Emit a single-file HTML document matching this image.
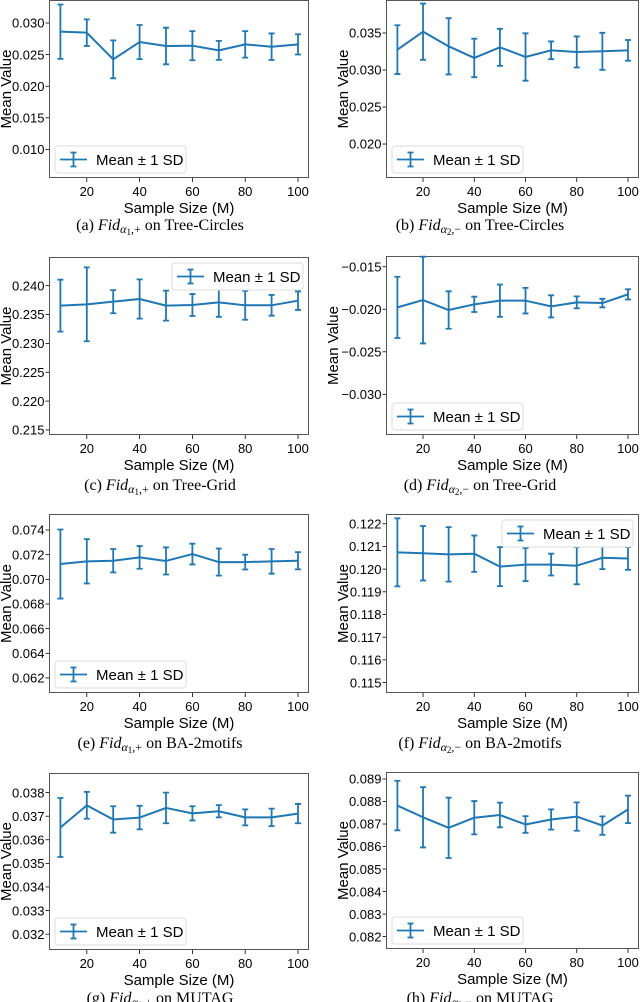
<!DOCTYPE html>
<html><head><meta charset="utf-8"><style>
html,body{margin:0;padding:0;background:#fff;}
svg{display:block;}
.tick{font-family:"Liberation Sans",sans-serif;font-size:13px;fill:#000;}
.axl{font-family:"Liberation Sans",sans-serif;font-size:15px;fill:#000;}
.leg{font-family:"Liberation Sans",sans-serif;font-size:15px;fill:#000;}
.cap{font-family:"Liberation Serif",serif;font-size:16px;fill:#000;}
</style></head><body>
<svg id="fig" width="640" height="1002" viewBox="0 0 640 1002" xmlns="http://www.w3.org/2000/svg"></svg>
<script>
const sampleSizes=[10,20,30,40,50,60,70,80,90,100];
const xTicks=[20,40,60,80,100];
const meansA=[0.02863,0.02847,0.02425,0.02699,0.02636,0.02641,0.02567,0.02662,0.02625,0.02662];
const sdA=[0.0043,0.0021,0.0030,0.0027,0.0029,0.0023,0.0015,0.0021,0.0021,0.0016];
const ticksA=["0.010","0.015","0.020","0.025","0.030"];
const meansB=[0.03275,0.03518,0.0332,0.03163,0.03307,0.03176,0.03266,0.03244,0.03253,0.03266];
const sdB=[0.0033,0.0038,0.0038,0.0026,0.0025,0.0032,0.0012,0.0021,0.0025,0.0014];
const ticksB=["0.020","0.025","0.030","0.035"];
const meansC=[0.23654,0.23677,0.23723,0.23769,0.23654,0.23665,0.23711,0.2366,0.2366,0.2374];
const sdC=[0.0045,0.0064,0.0020,0.0034,0.0026,0.0019,0.0025,0.0025,0.0018,0.0016];
const ticksC=["0.215","0.220","0.225","0.230","0.235","0.240"];
const meansD=[-0.01978,-0.01892,-0.02009,-0.01942,-0.01899,-0.01899,-0.01966,-0.01919,-0.01927,-0.01825];
const sdD=[0.0036,0.0051,0.0022,0.0009,0.0019,0.0015,0.0013,0.0007,0.0005,0.0006];
const ticksD=["-0.030","-0.025","-0.020","-0.015"];
const meansE=[0.07124,0.07146,0.07151,0.07178,0.07149,0.07205,0.0714,0.0714,0.07146,0.07151];
const sdE=[0.0028,0.0018,0.00095,0.00092,0.0011,0.00084,0.0011,0.0006,0.001,0.0007];
const ticksE=["0.062","0.064","0.066","0.068","0.070","0.072","0.074"];
const meansF=[0.12074,0.1207,0.12065,0.12068,0.12011,0.1202,0.1202,0.12015,0.1205,0.12047];
const sdF=[0.0015,0.0012,0.0012,0.0008,0.00086,0.00073,0.00048,0.00082,0.0005,0.0005];
const ticksF=["0.115","0.116","0.117","0.118","0.119","0.120","0.121","0.122"];
const meansG=[0.03652,0.03746,0.03686,0.03694,0.03735,0.03712,0.03721,0.03695,0.03695,0.03711];
const sdG=[0.00125,0.00057,0.00056,0.0005,0.00065,0.0003,0.00026,0.00034,0.00037,0.00041];
const ticksG=["0.032","0.033","0.034","0.035","0.036","0.037","0.038"];
const meansH=[0.08782,0.0873,0.08683,0.08728,0.0874,0.08698,0.0872,0.08733,0.08693,0.08765];
const sdH=[0.0011,0.00134,0.00134,0.00074,0.00055,0.00037,0.00045,0.00063,0.00041,0.00061];
const ticksH=["0.082","0.083","0.084","0.085","0.086","0.087","0.088","0.089"];

const NS="http://www.w3.org/2000/svg";
const svg=document.getElementById('fig');
function mk(tag,attrs,parent,text){const e=document.createElementNS(NS,tag);for(const k in attrs)e.setAttribute(k,attrs[k]);if(text!==undefined)e.textContent=text;(parent||svg).appendChild(e);return e;}
const C="#1f77b4";
const panels=[
 {id:'a',x0:49,x1:309,y0:0,y1:178,lo:0.005475,hi:0.03364,m:meansA,s:sdA,t:ticksA,leg:'bl',cap:'(a)',sub:['1','+'],ds:'Tree-Circles',cy:230,lx:11},
 {id:'b',x0:386,x1:639,y0:0,y1:178,lo:0.01541,hi:0.03946,m:meansB,s:sdB,t:ticksB,leg:'bl',cap:'(b)',sub:['2','−'],ds:'Tree-Circles',cy:230,lx:348},
 {id:'c',x0:49,x1:309,y0:257,y1:435,lo:0.21413,hi:0.24497,m:meansC,s:sdC,t:ticksC,leg:'tr',cap:'(c)',sub:['1','+'],ds:'Tree-Grid',cy:490,lx:11},
 {id:'d',x0:386,x1:639,y0:256,y1:435,lo:-0.03478,hi:-0.01374,m:meansD,s:sdD,t:ticksD,leg:'bl',cap:'(d)',sub:['2','−'],ds:'Tree-Grid',cy:490,lx:338},
 {id:'e',x0:49,x1:309,y0:514,y1:693,lo:0.06078,hi:0.0753,m:meansE,s:sdE,t:ticksE,leg:'bl',cap:'(e)',sub:['1','+'],ds:'BA-2motifs',cy:748,lx:11},
 {id:'f',x0:386,x1:639,y0:514,y1:693,lo:0.11454,hi:0.12243,m:meansF,s:sdF,t:ticksF,leg:'tr',cap:'(f)',sub:['2','−'],ds:'BA-2motifs',cy:748,lx:348},
 {id:'g',x0:49,x1:309,y0:773,y1:950,lo:0.03133,hi:0.03883,m:meansG,s:sdG,t:ticksG,leg:'bl',cap:'(g)',sub:['1','+'],ds:'MUTAG',cy:1003,lx:11},
 {id:'h',x0:386,x1:639,y0:772,y1:949,lo:0.08145,hi:0.08931,m:meansH,s:sdH,t:ticksH,leg:'bl',cap:'(h)',sub:['2','−'],ds:'MUTAG',cy:1003,lx:348}
];
panels.forEach(p=>{
 const g=mk('g',{});
 
 
 const w=p.x1-p.x0;
 const xs=v=>p.x0+11.4+(v-10)/90*(w-22.4);
 const ys=v=>p.y1-(v-p.lo)/(p.hi-p.lo)*(p.y1-p.y0);
 const box=mk('rect',{x:p.x0+0.5,y:p.y0+0.5,width:w-1,height:p.y1-p.y0-1,fill:'none',stroke:'#555','stroke-width':1},g);
 
 
 p.t.forEach(t=>{const v=parseFloat(t);const y=ys(v);
  mk('line',{x1:p.x0-3.5,x2:p.x0,y1:y,y2:y,stroke:'#000','stroke-width':0.8},g);
  const tl=mk('text',{x:p.x0-4.5,y:y+4.7,'text-anchor':'end',class:'tick'},g,t.replace('-','−'));
  
  
 });
 xTicks.forEach(t=>{const x=xs(t);
  mk('line',{x1:x,x2:x,y1:p.y1,y2:p.y1+4,stroke:'#000','stroke-width':0.8},g);
  const tl=mk('text',{x:x,y:p.y1+18,'text-anchor':'middle',class:'tick'},g,String(t));
  
  
 });
 const xl=mk('text',{x:(p.x0+p.x1)/2,y:p.y1+35,'text-anchor':'middle',class:'axl'},g,'Sample Size (M)');
 
 
 const yl=mk('text',{x:0,y:0,'text-anchor':'middle',class:'axl',transform:`translate(${p.lx},${(p.y0+p.y1)/2}) rotate(-90)`},g,'Mean Value');
 
 
 sampleSizes.forEach((s,i)=>{const x=xs(s),y1=ys(p.m[i]-p.s[i]),y2=ys(p.m[i]+p.s[i]);
  const eb=mk('path',{d:`M${x},${y1}V${y2}M${x-3},${y1}H${x+3}M${x-3},${y2}H${x+3}`,stroke:C,'stroke-width':1.8,fill:'none'},g);
  
  
 });
 const d=sampleSizes.map((s,i)=>(i?'L':'M')+xs(s)+','+ys(p.m[i])).join('');
 const ln=mk('path',{d:d,stroke:C,'stroke-width':2,fill:'none','stroke-linejoin':'round'},g);
 
 
 const lw=131,lh=27;
 const bx=p.leg==='bl'?p.x0+6:p.x1-6-lw;
 const by=p.leg==='bl'?p.y1-5-lh:p.y0+6;
 const lg=mk('g',{},g);
 
 
 mk('rect',{x:bx,y:by,width:lw,height:lh,rx:3,fill:'#fff',stroke:'#ddd'},lg);
 const cy=by+lh/2;
 mk('path',{d:`M${bx+5},${cy}H${bx+32}M${bx+18.5},${cy-7}V${cy+7}M${bx+15.5},${cy-7}H${bx+21.5}M${bx+15.5},${cy+7}H${bx+21.5}`,stroke:C,'stroke-width':1.8,fill:'none'},lg);
 mk('text',{x:bx+41,y:cy+5.5,class:'leg'},lg,'Mean ± 1 SD');
 const cx=(p.x0<200)?160:480;
 const cap=mk('text',{x:cx,y:p.cy,'text-anchor':'middle',class:'cap'},g);
 
 
 mk('tspan',{},cap,p.cap+'  ');
 mk('tspan',{'font-style':'italic'},cap,'Fid');
 mk('tspan',{'font-style':'italic','font-size':'12px',dy:3},cap,'α');
 mk('tspan',{'font-size':'9px',dy:2},cap,p.sub[0]);
 mk('tspan',{'font-size':'12px',dy:-2},cap,','+p.sub[1]);
 mk('tspan',{dy:-3},cap,' on '+p.ds);
});
</script>
</body></html>
